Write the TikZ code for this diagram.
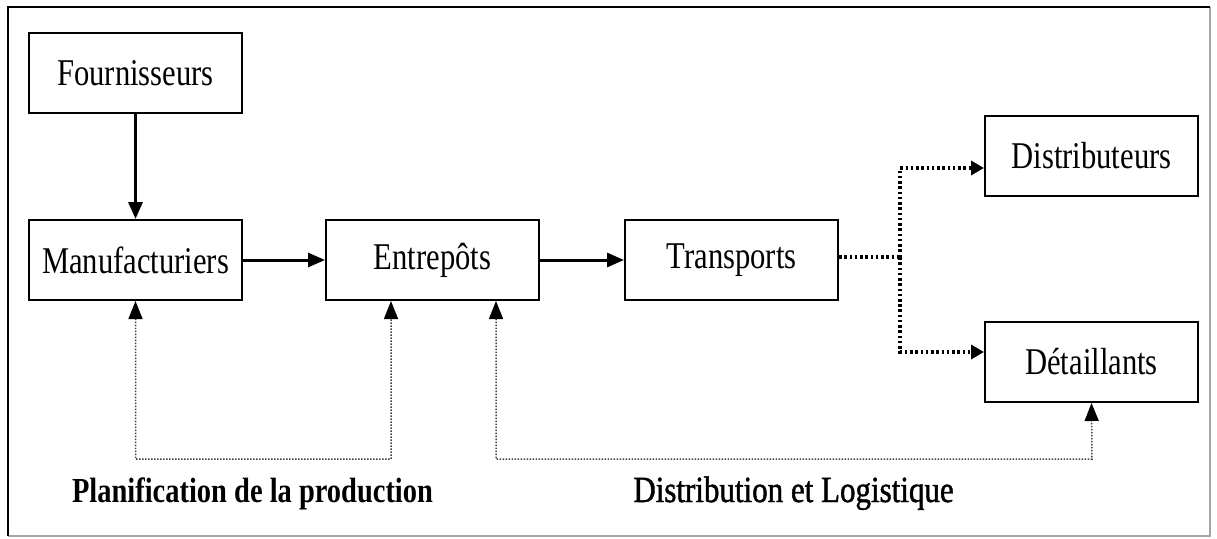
\documentclass[tikz,border=0pt]{standalone}
\usepackage{fontspec}
\setmainfont[FakeStretch=0.81]{Liberation Serif}
\newfontfamily\labelfont[FakeStretch=0.84,FakeBold=1.2]{Liberation Serif}
\usepackage{tikz}
\usetikzlibrary{arrows.meta,positioning,calc}
\tikzset{%
  solidarrow/.style = {-{Triangle[length=0.34cm,width=0.28cm]},line width=0.06cm},
  dotarrow/.style = {-{Triangle[length=0.26cm,width=0.28cm]},line width=0.065cm,
        dash pattern=on 0.05cm off 0.055cm},
  backarrow/.style = {{Triangle[length=0.36cm,width=0.28cm,color=black]}-{Triangle[length=0.36cm,width=0.28cm,color=black]},
        line width=0.03cm,dash pattern=on 0.03cm off 0.03cm,draw=black!75},
  b/.style = {rectangle,draw,solid,line width=0.04cm,minimum width=4.26cm,
        minimum height=1.6cm,font=\fontsize{21.5}{24}\selectfont}
}
\begin{document}
\begin{tikzpicture}
        \useasboundingbox (0,0) rectangle (24.34,10.76);
        % frame
        \draw [black!35,line width=0.03cm] (24.2,10.62) -- (24.2,0.04) -- (0.16,0.04);
        \draw [line width=0.04cm] (0.16,0.04) -- (0.16,10.62) -- (24.2,10.62);
        % supply chain boxes
        \node[b] (four) at (2.71,9.29) {Fournisseurs};
        \node[b] (manu) at (2.71,5.56) {Manufacturiers};
        \node[b] (entr) at (8.65,5.56) {Entrepôts};
        \node[b] (trans) at (14.63,5.56) {Transports};
        \node[b] (dist) at (21.83,7.64) {Distributeurs};
        \node[b] (deta) at (21.83,3.52) {Détaillants};
        % main flow
        \draw [solidarrow] (four) to (manu);
        \draw [solidarrow] (manu) to (entr);
        \draw [solidarrow] (entr) to (trans);
        % split to distributeurs and detaillants
        \coordinate (fork) at (18.0,5.62);
        \draw [dotarrow,-] ([yshift=0.06cm]trans.east) -- (fork);
        \draw [dotarrow] (fork) |- ([yshift=-0.24cm]dist.west);
        \draw [dotarrow] (fork) |- ([yshift=0.2cm]deta.west);
        % feedback loops
        \coordinate (pb) at (7.82,1.58);
        \coordinate (db) at (21.84,1.58);
        \draw [backarrow] (manu.south) |- (pb) -- ([xshift=-0.83cm]entr.south);
        \draw [backarrow] ([xshift=1.27cm]entr.south) |- (db) -- (deta.south);
        % labels
        \node[anchor=base,font=\fontsize{20}{24}\selectfont\bfseries] (plan) at (5.05,0.72) {Planification de la production};
        \node[anchor=base,font=\fontsize{21}{24}\labelfont] (logi) at (15.87,0.72) {Distribution et Logistique};
    \end{tikzpicture}
\end{document}
